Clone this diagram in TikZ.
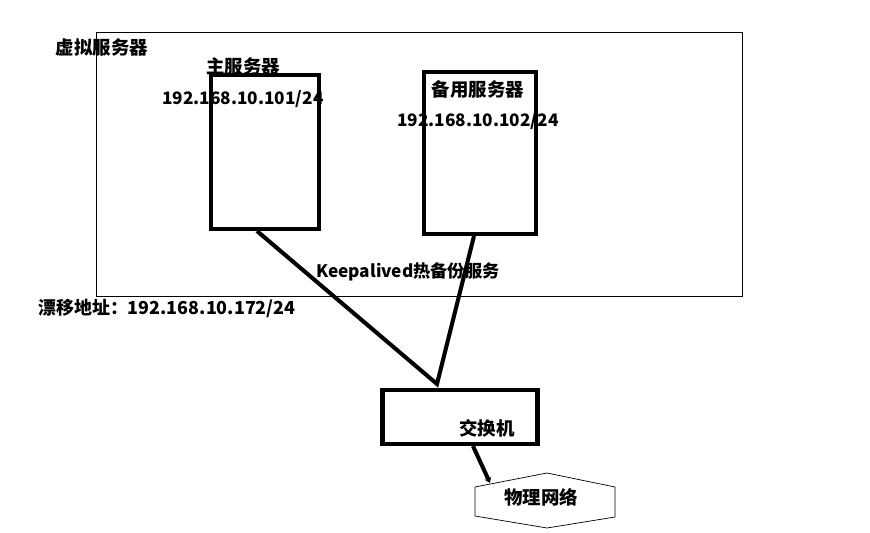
\documentclass[tikz,border=0pt]{standalone}
\usepackage{fontspec}
\setmainfont{Noto Sans CJK SC}
\usepackage{tikz}
\usetikzlibrary{arrows.meta,positioning,calc}

\begin{document}
\begin{tikzpicture}[
            x=0.02cm, y=-0.02cm,
            every node/.style={font=\fontsize{10.5}{12}\selectfont\bfseries, inner sep=0pt},
            ip/.style={font=\fontsize{9.8}{12}\selectfont\bfseries},
            srv/.style={draw, line width=2.3pt, minimum width=2.16cm, minimum height=3.08cm},
            lnk/.style={line width=2.3pt},
        ]
            \useasboundingbox (0,0) rectangle (870,532);
            % virtual server area
            \node[draw, thin, minimum width=12.92cm, minimum height=5.28cm] (vs) at (419,164) {};
            \node (vslbl) at (102,47) {虚拟服务器};
            % servers
            \node[srv] (main) at (265,152) {};
            \node[srv, minimum width=2.24cm, minimum height=3.24cm] (bak) at (480,153) {};
            \node (mainlbl) at (243,66) {主服务器};
            \node[ip] (mainip) at (243,99) {192.168.10.101/24};
            \node (baklbl) at (478,89) {备用服务器};
            \node[ip] (bakip) at (478,121) {192.168.10.102/24};
            \node[ip] (ka) at (408,272) {Keepalived热备份服务};
            \node[font=\fontsize{10.2}{12}\selectfont\bfseries, anchor=west] (vip) at (38,308) {漂移地址：192.168.10.172/24};
            % switch and network
            \node[srv, minimum width=3.1cm, minimum height=1.08cm] (sw) at (460,417) {};
            \node (swlbl) at (487,428) {交换机};
            \draw[thin] (475,487) -- (547,473) -- (615,487) -- (615,517) -- (547,528) -- (475,516) -- cycle;
            \node (net) at (541,497) {物理网络};
            \coordinate (jn) at (437,384);
            \coordinate (nt) at (490,483);
            \draw[lnk] ($(main.south)+(-8,0)$) -- (jn) -- ($(bak.south)+(-6,0)$);
            \draw[lnk, -{Stealth[length=3pt,width=4pt]}] ($(sw.south)+(13,0)$) -- (nt);
        \end{tikzpicture}
\end{document}
